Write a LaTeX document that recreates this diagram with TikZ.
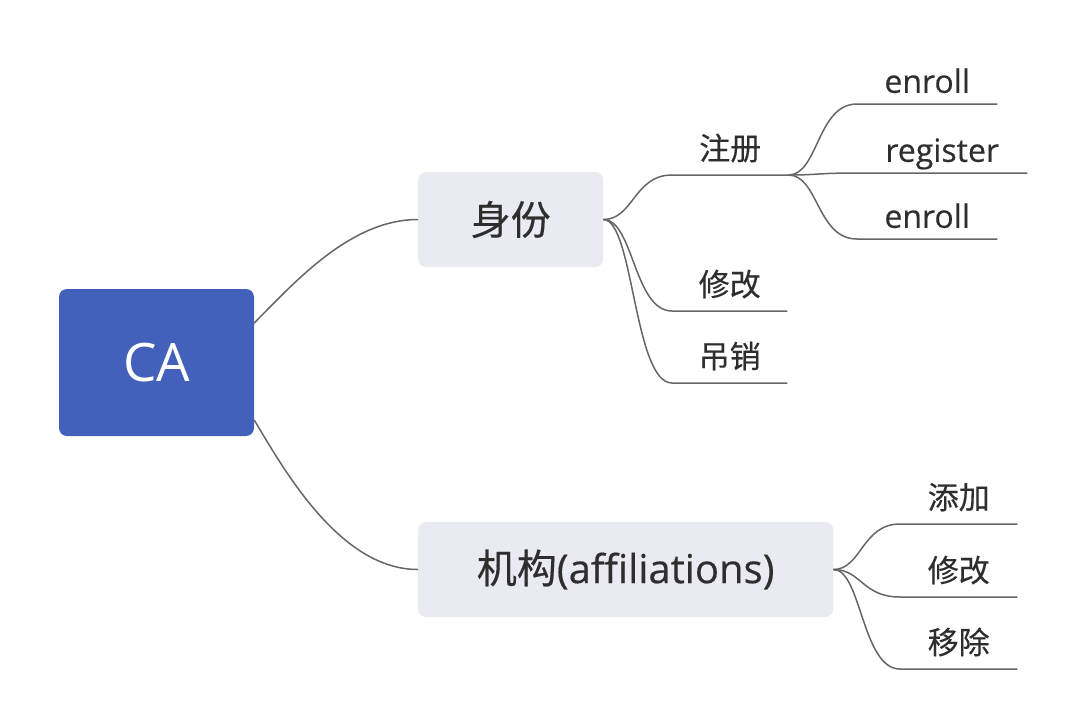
\documentclass[tikz,border=0pt]{standalone}
\usepackage{fontspec}
\setmainfont{Open Sans}
\newfontfamily\cjk{Noto Sans CJK SC}
\newcommand\medw{\addfontfeature{FakeBold=0.35}}
\definecolor{rootblue}{HTML}{4360BA}
\definecolor{topicgray}{HTML}{E9EAF2}
\definecolor{linegray}{HTML}{666666}
\definecolor{txt}{HTML}{2E2E2E}
\begin{document}
\begin{tikzpicture}[x=1pt,y=-1pt,
  rootnode/.style={fill=rootblue, rounded corners=8pt, text=white,
    font=\fontsize{53}{60}\selectfont, minimum width=195pt, minimum height=147pt, inner sep=0pt},
  topicnode/.style={fill=topicgray, rounded corners=8pt, text=txt,
    font=\fontsize{40}{48}\selectfont\medw, minimum height=95pt, inner sep=0pt, anchor=west},
  leafnode/.style={text=txt, font=\fontsize{32}{38}\selectfont\medw, inner xsep=0pt,
    inner ysep=11pt, text depth=0pt, anchor=south west},
  cjkleaf/.style={leafnode, inner ysep=15pt, font=\fontsize{31}{38}\selectfont\cjk\medw},
  conn/.style={draw=linegray, line width=1.5pt}]
\useasboundingbox (0,0) rectangle (1082,724);

% nodes
\node[rootnode] (ca) at (156.5,362.5) {CA};
\node[topicnode, minimum width=185pt] (s1) at (418,219.5) {\cjk\medw 身份};
\node[topicnode, minimum width=415pt] (s2) at (418,569.5) {{\cjk\medw 机构}(affiliations)};

\node[cjkleaf, minimum width=116pt] (zc) at (672,175) {注册};
\node[cjkleaf, minimum width=115pt] (xg) at (672,311) {修改};
\node[cjkleaf, minimum width=115pt] (dx) at (672,383) {吊销};

\node[leafnode, minimum width=140pt] (en1) at (857,104) {enroll};
\node[leafnode, minimum width=170pt] (reg) at (857,173) {register};
\node[leafnode, minimum width=140pt] (en2) at (857,239) {enroll};

\node[cjkleaf, minimum width=117pt] (tj) at (900,524) {添加};
\node[cjkleaf, minimum width=117pt] (xg2) at (900,597) {修改};
\node[cjkleaf, minimum width=117pt] (yc) at (900,669) {移除};

% connectors
\draw[conn] ([yshift=39.5pt]ca.east) .. controls +(40,-40) and +(-68,0) .. (s1.west);
\draw[conn] ([yshift=-57.5pt]ca.east) .. controls +(30,50) and +(-78,0) .. (s2.west);

\foreach \n in {zc,xg,dx}
  \draw[conn] (s1.east) .. controls +(30,0) and +(-38,0) .. (\n.south west) -- (\n.south east);
\foreach \n in {en1,reg,en2}
  \draw[conn] (zc.south east) .. controls +(30,0) and +(-40,0) .. (\n.south west) -- (\n.south east);
\foreach \n in {tj,xg2,yc}
  \draw[conn] (s2.east) .. controls +(28,0) and +(-38,0) .. (\n.south west) -- (\n.south east);
\end{tikzpicture}
\end{document}
